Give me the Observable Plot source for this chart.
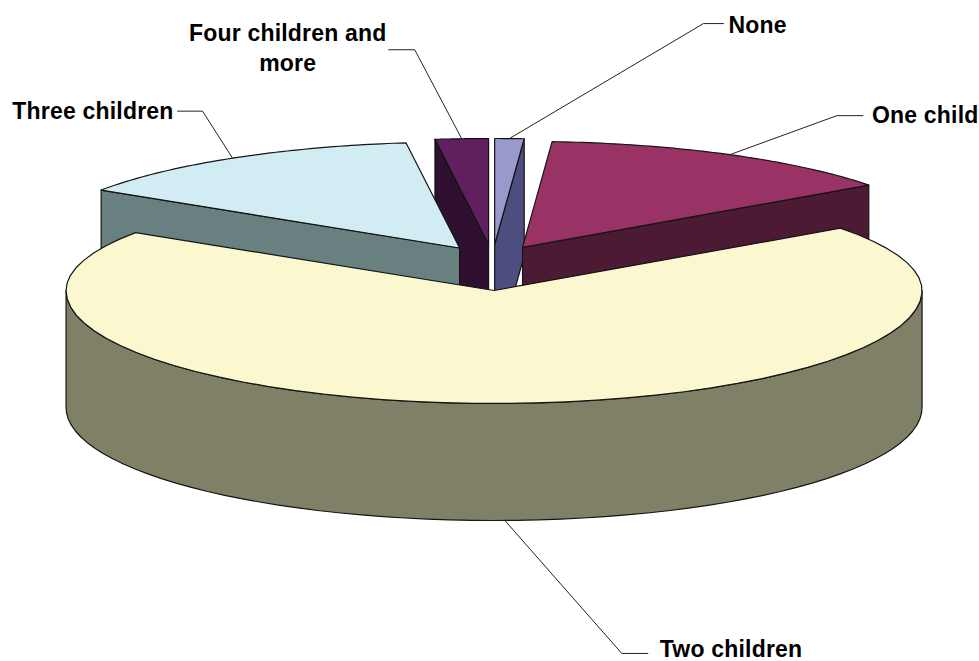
<!DOCTYPE html>
<html>
<head>
<meta charset="utf-8">
<style>html,body{margin:0;padding:0;background:#fff}</style>
<script src="https://cdn.jsdelivr.net/npm/d3@7"></script>
<script src="https://cdn.jsdelivr.net/npm/@observablehq/plot@0.6"></script>
</head>
<body>
<script>
// Data: clockwise from twelve o'clock
const categories = ["None", "One child", "Two children", "Three children", "Four children and\nmore"];
const shares = [1.1, 13.9, 69.2, 13.8, 2.0];
const topColors = ["#9999cc", "#993366", "#fbf7cf", "#d2ecf4", "#602060"];
const wallColors = ["#4d4d80", "#4d1a33", "#808066", "#698080", "#301030"];

// Projection of the tilted, exploded pie
const W = 979, H = 661;
const base = {x: 492, y: 267};
const rx = 428, ryBack = 106, ryFront = 113, depth = 117;
const explodeX = 62, explodeY = 23;

// Label layout: elbow offset from the rim, leader run, text offset
const elbowDx = [194, 107, 117, -30, -47];
const elbowDy = [-115, -39, 133, -47, -89];
const runDx = [20, 26, 26, -25, -26];
const textDx = [5, 9, 12, -4, -101];
const textDy = [0, -2, -6, -2, -3];
const textAnchors = ["start", "start", "start", "end", "middle"];

const rad = (d) => (d * Math.PI) / 180;
const rim = (c, t) => {
  const cos = Math.cos(rad(t));
  return {x: c.x + rx * Math.sin(rad(t)), y: c.y - (cos > 0 ? ryBack : ryFront) * cos};
};
const down = (p) => ({x: p.x, y: p.y + depth});

let acc = 0;
const slices = categories.map((name, i) => {
  const t0 = acc * 3.6;
  acc += shares[i];
  const t1 = acc * 3.6;
  const mid = (t0 + t1) / 2;
  const c = {
    x: base.x + explodeX * Math.sin(rad(mid)),
    y: base.y - explodeY * Math.cos(rad(mid))
  };
  return {name, i, t0, t1, mid, c};
});

const arc = (c, a, b) => d3.range(0, 61).map((k) => rim(c, a + ((b - a) * k) / 60));

const topFace = (s) => [s.c, ...arc(s.c, s.t0, s.t1)];
const startWall = (s) => { const p = rim(s.c, s.t0); return [s.c, p, down(p), down(s.c)]; };
const endWall = (s) => { const p = rim(s.c, s.t1); return [s.c, p, down(p), down(s.c)]; };
const outerWall = (s, a, b) => {
  const top = arc(s.c, a, b);
  return [...top, ...top.slice().reverse().map(down)];
};

const [none, one, two, three, four] = slices;
// Back to front: Four and Three show their left cut, None and One their right cut
const polygons = [
  [startWall(four), wallColors[4]],
  [topFace(four), topColors[4]],
  [endWall(none), wallColors[0]],
  [topFace(none), topColors[0]],
  [endWall(one), wallColors[1]],
  [topFace(one), topColors[1]],
  [startWall(three), wallColors[3]],
  [topFace(three), topColors[3]],
  [outerWall(two, 90, 270), wallColors[2]],
  [topFace(two), topColors[2]]
];

const leaders = slices.map((s) => {
  const a = s === two ? down(rim(s.c, s.mid)) : rim(s.c, s.mid);
  const e = {x: a.x + elbowDx[s.i], y: a.y + elbowDy[s.i]};
  const r = {x: e.x + runDx[s.i], y: e.y};
  return {pts: [a, e, r], tx: r.x + textDx[s.i], ty: r.y + textDy[s.i], name: s.name, anchor: textAnchors[s.i]};
});

const stroke = {stroke: "#141414", strokeWidth: 1.2, strokeLinejoin: "round"};

const chart = Plot.plot({
  width: W,
  height: H,
  margin: 0,
  x: {domain: [0, W], range: [0, W], axis: null},
  y: {domain: [0, H], range: [0, H], axis: null},
  style: {background: "#fff", letterSpacing: "0.2px"},
  marks: [
    ...polygons.map(([pts, color]) =>
      Plot.line(pts, {x: "x", y: "y", curve: "linear-closed", fill: color, ...stroke})
    ),
    ...leaders.map((l) =>
      Plot.line(l.pts, {x: "x", y: "y", stroke: "#222", strokeWidth: 1})
    ),
    ...leaders.map((l) =>
      Plot.text([l], {
        x: "tx", y: "ty", text: "name",
        textAnchor: l.anchor,
        lineHeight: 1.3,
        fontFamily: "Liberation Sans, Arial, sans-serif",
        fontWeight: "bold",
        fontSize: 23,
        fill: "#000"
      })
    )
  ]
});
document.body.appendChild(chart);
</script>
</body>
</html>
